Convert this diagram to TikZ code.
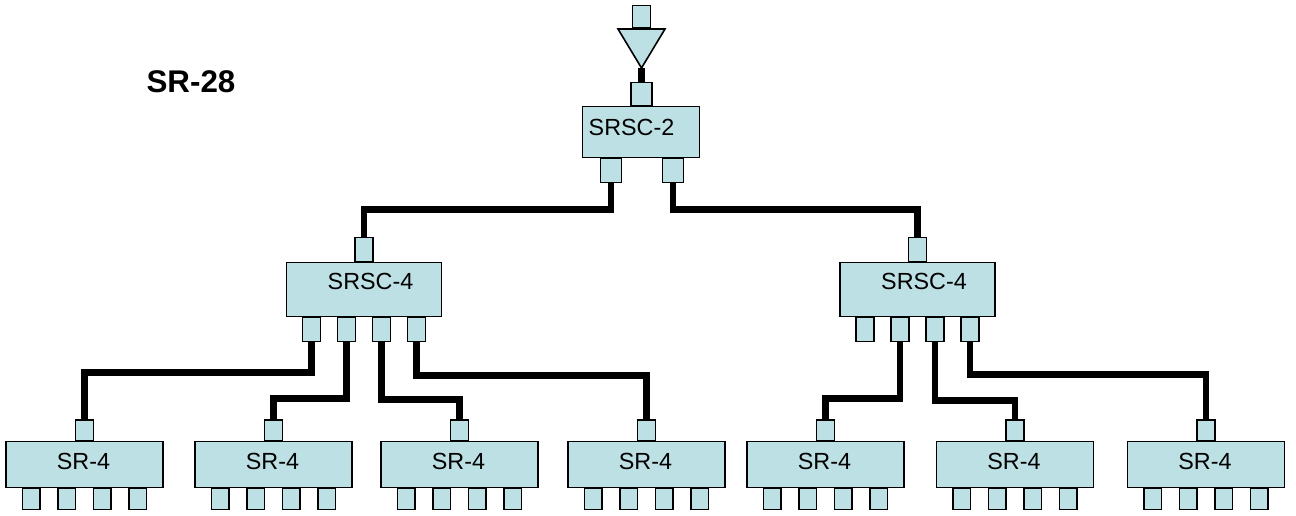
\documentclass[tikz,border=0pt]{standalone}
\usepackage{fontspec}
\setmainfont{Liberation Sans}
\usetikzlibrary{positioning}
\definecolor{splitblue}{RGB}{189,224,228}

\begin{document}
\begin{tikzpicture}[x=0.75pt,y=-0.75pt,
  part/.style={draw,fill=splitblue,line width=1.2pt,inner sep=0pt},
  srbox/.style={part,minimum width=118pt,minimum height=34.75pt},
  scbox/.style={part,minimum width=116.5pt,minimum height=40.75pt},
  portbox/.style={part,minimum width=13.4pt,minimum height=15.5pt},
  tag/.style={inner sep=0pt,font=\fontsize{17.5}{20}\selectfont},
  wire/.style={line width=4.8pt,line join=miter}]
  \useasboundingbox (0,0) rectangle (1296,516);

  \node[font=\bfseries\fontsize{23.5}{26}\selectfont,inner sep=0pt] (title) at (191,82) {SR-28};

  % feed and first splitter
  \node[portbox,minimum width=13.75pt,minimum height=16.75pt] (feed) at (641.5,16.5) {};
  \draw[part] (618,29) -- (665,29) -- (641.5,68) coordinate (apex) -- cycle;
  \node[part,minimum width=88pt,minimum height=38.5pt] (sc2) at (641,132) {};
  \node[tag] (sc2t) at (631.5,127) {SRSC-2};
  \node[portbox,minimum width=16pt,minimum height=17.5pt] (sc2-in) at (641.5,94) {};
  \node[portbox,minimum width=16pt,minimum height=18.25pt] (sc2-out1) at (611,170.5) {};
  \node[portbox,minimum width=16pt,minimum height=18.25pt] (sc2-out2) at (673,170.5) {};

  % second level
  \foreach \nm/\cx in {sc4L/364,sc4R/917.5} {
    \node[scbox] (\nm) at (\cx,289.5) {};
    \node[tag] (\nm t) at (\cx+6.5,281.5) {SRSC-4};
    \node[portbox,minimum height=18.25pt] (\nm-in) at (\cx,249.5) {};
    \foreach \dx [count=\j] in {-52.5,-17.5,17.5,52.5}
      \node[portbox,minimum height=18.25pt] (\nm-out\j) at (\cx+\dx,329.5) {};
  }

  % SR-4 row
  \foreach \cx [count=\i] in {84.5,273.5,459.5,646.5,825.5,1015,1206} {
    \node[srbox] (sr\i) at (\cx,464.5) {};
    \node[tag] (sr\i t) at (\cx-1,461) {SR-4};
    \node[portbox] (sr\i-in) at (\cx,430.5) {};
    \foreach \dx [count=\j] in {-53.25,-17.75,17.75,53.25}
      \node[portbox,minimum height=16pt] (sr\i-out\j) at (\cx+\dx,499) {};
  }

  % cables
  \draw[wire] (apex) -- (sc2-in.north);
  \draw[wire] (sc2-out1.south) -- ++(0,26) -| (sc4L-in.north);
  \draw[wire] (sc2-out2.south) -- ++(0,26) -| (sc4R-in.north);
  \draw[wire] (sc4L-out1.south) -- ++(0,30) -| (sr1-in.north);
  \draw[wire] (sc4L-out2.south) -- ++(0,56) -| (sr2-in.north);
  \draw[wire] (sc4L-out3.south) -- ++(0,57) -| (sr3-in.north);
  \draw[wire] (sc4L-out4.south) -- ++(0,33) -| (sr4-in.north);
  \draw[wire] (sc4R-out2.south) -- ++(0,56) -| (sr5-in.north);
  \draw[wire] (sc4R-out3.south) -- ++(0,58) -| (sr6-in.north);
  \draw[wire] (sc4R-out4.south) -- ++(0,32) -| (sr7-in.north);
\end{tikzpicture}
\end{document}
